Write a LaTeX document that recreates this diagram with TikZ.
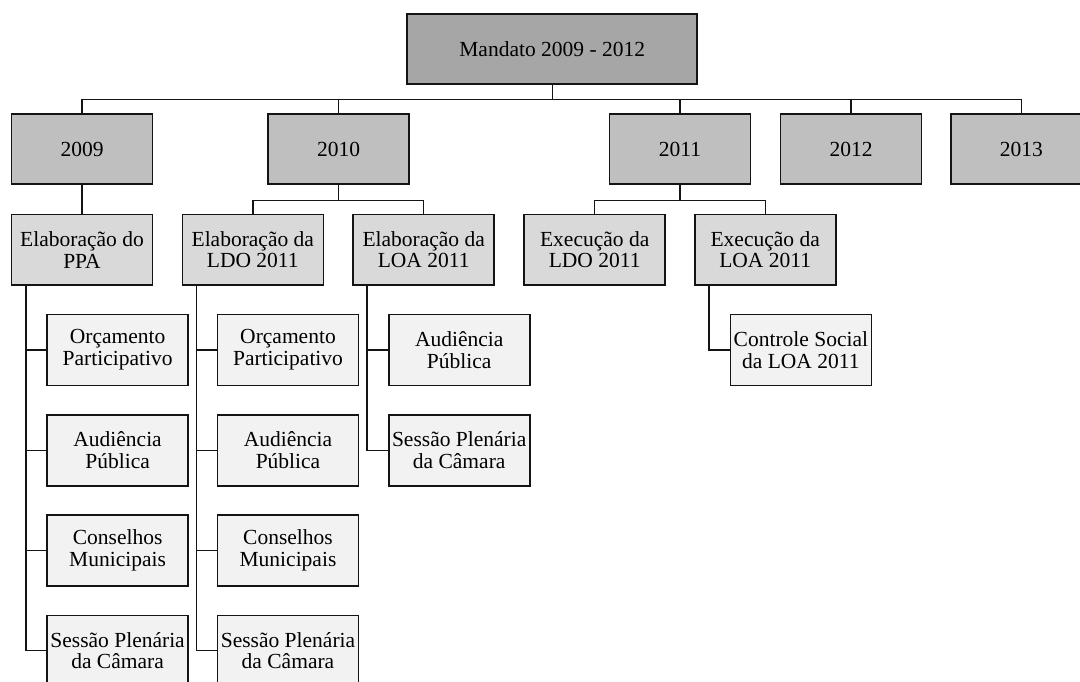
\documentclass[tikz,border=0pt]{standalone}
\usepackage{fontspec}
\setmainfont{Liberation Serif}
\definecolor{cTop}{HTML}{A6A6A6}
\definecolor{cYear}{HTML}{BFBFBF}
\definecolor{cMid}{HTML}{D9D9D9}
\definecolor{cLow}{HTML}{F2F2F2}
\definecolor{cLine}{HTML}{141414}
\tikzset{
  box/.style={draw=cLine, line width=1.6pt, rectangle, inner sep=0pt,
    minimum width=141pt, minimum height=70.7pt, align=center,
    font=\fontsize{21.5}{21.7}\selectfont},
  topbox/.style={box, fill=cTop, minimum width=290pt, minimum height=70pt},
  yearbox/.style={box, fill=cYear, minimum height=70pt},
  midbox/.style={box, fill=cMid},
  lowbox/.style={box, fill=cLow},
  conn/.style={draw=cLine, line width=1.4pt}
}
\begin{document}
\begin{tikzpicture}[x=1pt, y=-1pt]
\useasboundingbox (0,0) rectangle (1080,682);
\clip (0,0) rectangle (1080,682);
% connectors first (below boxes)
\coordinate (dummy) at (0,0);
% top
\node[topbox] (m) at (552.2,49.3) {Mandato 2009 - 2012};
% years
\node[yearbox] (y2009) at (82,149.3) {2009};
\node[yearbox] (y2010) at (338.5,149.3) {2010};
\node[yearbox] (y2011) at (680,149.3) {2011};
\node[yearbox] (y2012) at (851,149.3) {2012};
\node[yearbox] (y2013) at (1021.4,149.3) {2013};
% level 2
\node[midbox] (ppa) at (82,249.7) {Elaboração do\\PPA};
\node[midbox] (ldo) at (252.8,249.7) {Elaboração da\\LDO 2011};
\node[midbox] (loa) at (423.7,249.7) {Elaboração da\\LOA 2011};
\node[midbox] (eldo) at (594.7,249.7) {Execução da\\LDO 2011};
\node[midbox] (eloa) at (765.2,249.7) {Execução da\\LOA 2011};
% level 3 - PPA
\node[lowbox] (p1) at (117.6,350) {Orçamento\\Participativo};
\node[lowbox] (p2) at (117.6,450.4) {Audiência\\Pública};
\node[lowbox] (p3) at (117.6,550.5) {Conselhos\\Municipais};
\node[lowbox] (p4) at (117.6,650.7) {Sessão Plenária\\da Câmara};
% level 3 - LDO
\node[lowbox] (d1) at (288,350) {Orçamento\\Participativo};
\node[lowbox] (d2) at (288,450.4) {Audiência\\Pública};
\node[lowbox] (d3) at (288,550.5) {Conselhos\\Municipais};
\node[lowbox] (d4) at (288,650.7) {Sessão Plenária\\da Câmara};
% level 3 - LOA
\node[lowbox] (l1) at (459.2,350) {Audiência\\Pública};
\node[lowbox] (l2) at (459.2,450.4) {Sessão Plenária\\da Câmara};
% level 3 - Exec LOA
\node[lowbox] (e1) at (800.9,350) {Controle Social\\da LOA 2011};
% connectors top -> years
\draw[conn] (m.south) -- ++(0,14.7) -| (y2009.north);
\draw[conn] (m.south) -- ++(0,14.7) -| (y2010.north);
\draw[conn] (m.south) -- ++(0,14.7) -| (y2011.north);
\draw[conn] (m.south) -- ++(0,14.7) -| (y2012.north);
\draw[conn] (m.south) -- ++(0,14.7) -| (y2013.north);
% years -> level 2
\draw[conn] (y2009.south) -- (ppa.north);
\draw[conn] (y2010.south) -- ++(0,15.7) -| (ldo.north);
\draw[conn] (y2010.south) -- ++(0,15.7) -| (loa.north);
\draw[conn] (y2011.south) -- ++(0,15.7) -| (eldo.north);
\draw[conn] (y2011.south) -- ++(0,15.7) -| (eloa.north);
% level 2 -> level 3
\foreach \c in {p1,p2,p3,p4}{\draw[conn] ([xshift=-56.2pt]ppa.south) |- (\c.west);}
\foreach \c in {d1,d2,d3,d4}{\draw[conn] ([xshift=-56.2pt]ldo.south) |- (\c.west);}
\foreach \c in {l1,l2}{\draw[conn] ([xshift=-56.7pt]loa.south) |- (\c.west);}
\draw[conn] ([xshift=-56.2pt]eloa.south) |- (e1.west);
\end{tikzpicture}
\end{document}
